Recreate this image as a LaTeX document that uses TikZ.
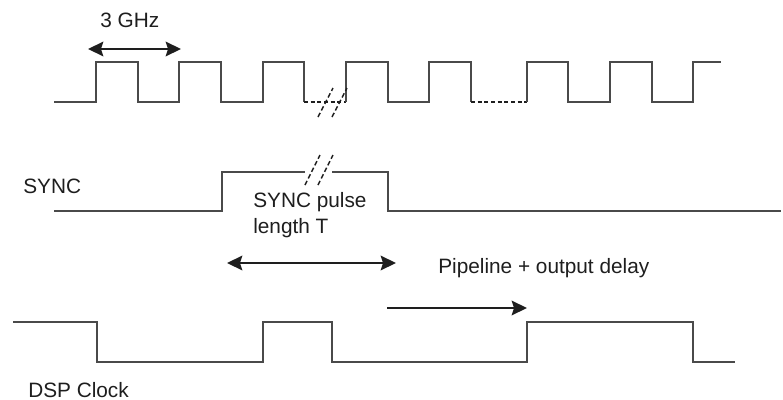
\documentclass[tikz,border=0pt]{standalone}
\usepackage{fontspec}
\setmainfont{Liberation Sans}
\usepackage{xcolor}
\definecolor{cWave}{HTML}{4A4A4A}
\definecolor{cArr}{HTML}{1E1E1E}
\usepackage{tikz}
\usetikzlibrary{arrows.meta}

\begin{document}
\begin{tikzpicture}[
    x=0.75pt, y=-0.75pt,
    wave/.style  = {line width=0.9pt, color=cWave},
    gap/.style   = {line width=1.2pt, dash pattern=on 3pt off 2pt, color=cArr},
    slash/.style = {line width=1.1pt, dash pattern=on 3.5pt off 2pt, color=cArr},
    dim/.style   = {{Stealth[length=4mm, width=3.8mm, inset=0.6mm]}-{Stealth[length=4mm, width=3.8mm, inset=0.6mm]},
                    line width=2.1pt, color=cArr},
    arr/.style   = {-{Stealth[length=4mm, width=3.8mm, inset=0.6mm]}, line width=2.1pt, color=cArr},
    lbl/.style   = {anchor=base west, inner sep=0pt, font=\fontsize{15.6}{18.8}\selectfont,
                    color=cArr, align=left}
]
\useasboundingbox (0,0) rectangle (783,400);
% --- Radky: y souradnice --------------------------------------------------
\def\yHi{62}  \def\yLo{102}    % 3 GHz hodiny
\def\ySHi{172}\def\ySLo{211}   % SYNC
\def\yDHi{322}\def\yDLo{362}   % DSP hodiny

% --- 3 GHz hodiny (nahore) -----------------------------------------------
\draw[wave] (54,\yLo) -- (96,\yLo) -- (96,\yHi) -- (138,\yHi) -- (138,\yLo)
  -- (179,\yLo) -- (179,\yHi) -- (221,\yHi) -- (221,\yLo)
  -- (263,\yLo) -- (263,\yHi) -- (304,\yHi) -- (304,\yLo);
\draw[gap]  (304,\yLo) -- (346,\yLo);
\draw[wave] (346,\yLo) -- (346,\yHi) -- (388,\yHi) -- (388,\yLo)
  -- (429,\yLo) -- (429,\yHi) -- (471,\yHi) -- (471,\yLo);
\draw[gap]  (471,\yLo) -- (527,\yLo);
\draw[wave] (527,\yLo) -- (527,\yHi) -- (568,\yHi) -- (568,\yLo)
  -- (610,\yLo) -- (610,\yHi) -- (652,\yHi) -- (652,\yLo)
  -- (693,\yLo) -- (693,\yHi) -- (721,\yHi);
% preruseni casu
\draw[slash] (318,117) -- (333,88);
\draw[slash] (332,117) -- (347,88);

% perioda 3 GHz
\node[lbl] (ghz) at (100,27) {3 GHz};
\coordinate (pA) at (88,49);
\coordinate (pB) at (181,49);
\draw[dim] (pA) -- (pB);

% --- SYNC ----------------------------------------------------------------
\node[lbl] (sync) at (23,193) {SYNC};
\draw[wave] (54,\ySLo) -- (222,\ySLo) -- (222,\ySHi) -- (305,\ySHi);
\draw[wave] (332,\ySHi) -- (388,\ySHi) -- (388,\ySLo) -- (781,\ySLo);
\draw[slash] (305,185) -- (320,155);
\draw[slash] (318,185) -- (333,155);
% base = uctari posledniho radku
\node[lbl] (pulse) at (253,233) {SYNC pulse\\length T};

% delka pulzu T
\coordinate (tA) at (227,263);
\coordinate (tB) at (396,263);
\draw[dim] (tA) -- (tB);

% --- Zpozdeni ------------------------------------------------------------
\node[lbl] (delay) at (438,273) {Pipeline + output delay};
\coordinate (dA) at (387,308);
\coordinate (dB) at (527,308);
\draw[arr] (dA) -- (dB);

% --- DSP hodiny (dole) ---------------------------------------------------
\draw[wave] (13,\yDHi) -- (97,\yDHi) -- (97,\yDLo) -- (263,\yDLo) -- (263,\yDHi)
  -- (332,\yDHi) -- (332,\yDLo) -- (527,\yDLo) -- (527,\yDHi)
  -- (693,\yDHi) -- (693,\yDLo) -- (735,\yDLo);
\node[lbl] (dsp) at (28,397) {DSP Clock};
\end{tikzpicture}
\end{document}
